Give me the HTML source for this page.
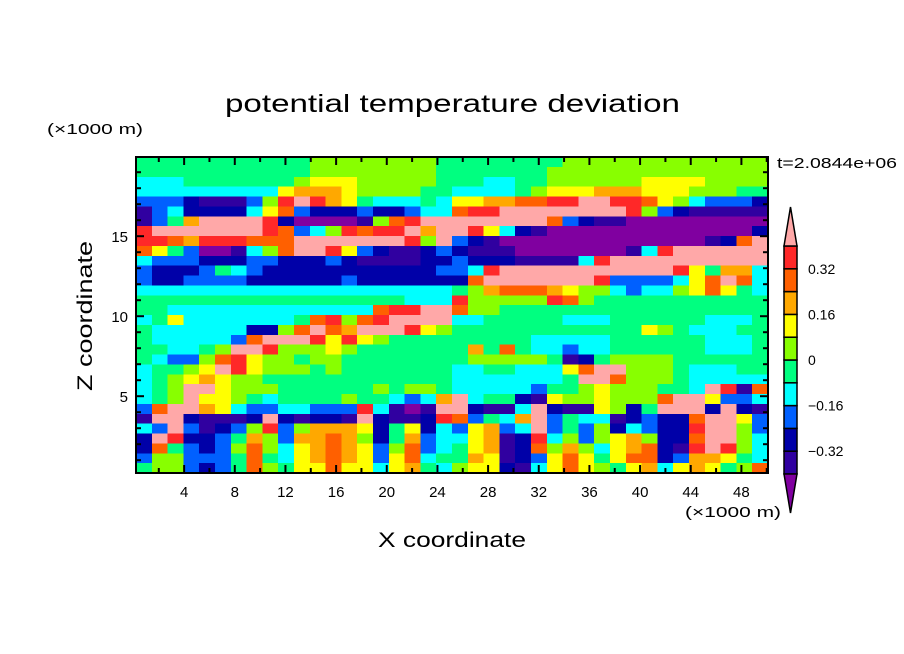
<!DOCTYPE html>
<html><head><meta charset="utf-8"><style>
html,body{margin:0;padding:0;background:#fff;}
svg{display:block;font-family:"Liberation Sans","DejaVu Sans",sans-serif;}
</style></head><body>
<svg id="chart" width="904" height="654" viewBox="0 0 904 654" xmlns="http://www.w3.org/2000/svg">
<rect width="904" height="654" fill="#fff"/>
<g id="cells" shape-rendering="crispEdges"></g>
<g id="axes"></g>
<g id="cbar"></g>
<text x="225" y="112" font-size="25" textLength="455" lengthAdjust="spacingAndGlyphs">potential temperature deviation</text>
<text x="47" y="134" font-size="15" textLength="96" lengthAdjust="spacingAndGlyphs">(×1000 m)</text>
<text x="777" y="168" font-size="15" textLength="120" lengthAdjust="spacingAndGlyphs">t=2.0844e+06</text>
<text x="685" y="517" font-size="15" textLength="96" lengthAdjust="spacingAndGlyphs">(×1000 m)</text>
<text x="378" y="547" font-size="21" textLength="148" lengthAdjust="spacingAndGlyphs">X coordinate</text>
<text transform="translate(92,391) rotate(-90)" font-size="21" textLength="150" lengthAdjust="spacingAndGlyphs">Z coordinate</text>
</svg>
<script>
// Field rows (top z -> bottom z), 40 columns each; codes a..l = levels
const levelCodes = "abcdefghijkl";
const fieldRows = [
"fffffffffffggggggggf"+"fffffffggggggggggggg",
"fffffffffffggggggggf"+"ffffffgggggggggggggg",
"eeefffffffghhhgggggf"+"ffeeffgggggghhhhgggg",
"eeeeeeeeehiiihggggff"+"eeeefghhhiiihhhgggff",
"dddcbbbdgklkihfeeefe"+"hhiijjkkllkkjhgedddc",
"bdeccccehjdcccdccdee"+"jkkllllllllkgdcbbbbb",
"bdfillllkcaaaabgjkll"+"lllllljdcbbaaaaaaaaa",
"klllllllkjdegkjkklil"+"lkhecbaaaaaaaaaaaaac",
"kkjikkkjjjlllllllkgl"+"dcbaaaaaaaaaaaaabcjl",
"jhfdaabegjllkhdcbbcd"+"cbbbaaaaaaabekllllll",
"edddcccddcccdcbbbbcc"+"dcccbbbbekllllllllll",
"dcccdfedcccccccccccd"+"deklllllllllllkhfiie",
"dccddddccccccdcccccc"+"cjlllllllkddddehjlje",
"eeeeeeeeeeeeeeeeeeee"+"fgijjjihggedeeghjhfe",
"fffffffffffffffffeee"+"kgggggkjgfffffffffff",
"ffeeeeeeeeeeeeejkkll"+"jggfffffffffffffffff",
"efheeeeeeefjkgjkllll"+"eefffffeeeffffffeeef",
"feeeeeeccgjljilllkhg"+"ffffffffffffhgfeeeff",
"feeeeedjlllkhkhgffff"+"fffffeeeeeffffffeeef",
"ffeefgllkggghgffffff"+"fifjfeedeeffffffeeef",
"feddgjkhggfggfffffff"+"fgggggfbcfggggffffff",
"effghlkhgggfgfffffff"+"eeffeeehjllgggfeeeff",
"efghihggffffffffffff"+"eeeeeeeflljgggfeeeee",
"efgllhgggffffffgfggf"+"eeeeedffghgggffelkbj",
"efglhhgfeffffgffedei"+"leffcbhgghgggjllhdde",
"djlliheddeedddkebabl"+"lcbbelcbbhgcflllclcb",
"bllcbbbclcbccblcbbck"+"jdfeildfeebcdccjllhd",
"edldbcdgkdgiiihcfhce"+"dhideldfdgcedcckllgd",
"clkccdfigdiijigcfide"+"ehibckegdghigccjllge",
"cjfdcdgjgehijihdgjde"+"fhibcjgigehijcbklkge",
"dggdddfjfehijihdhjef"+"fihbcdhjhfhjjcdiihfe",
"fggdcdfjgfhhjhhehife"+"ghhcbehjhgfhiehihfgj"
];
const contourLevels = [-0.4,-0.32,-0.24,-0.16,-0.08,0,0.08,0.16,0.24,0.32,0.4];
const levelColors = ["#8000a0","#3000a0","#0000a8","#0060ff","#00ffff","#00ff80","#88ff00","#ffff00","#ffa800","#ff6000","#ff2828","#ffa8a8"];
const xTicks = [4,8,12,16,20,24,28,32,36,40,44,48];
const yTicks = [5,10,15];
const cbarLabels = [0.32,0.16,0,-0.16,-0.32];

const X0=0.2, X1=50.1, Z0=0.2, Z1=19.95;
const PL=136, PR=768, PT=157, PB=473;
const xs = x => PL + (x-X0)/(X1-X0)*(PR-PL);
const ys = z => PB - (z-Z0)/(Z1-Z0)*(PB-PT);
const NS="http://www.w3.org/2000/svg";
function mk(tag, attrs, parent){const e=document.createElementNS(NS,tag);for(const k in attrs)e.setAttribute(k,attrs[k]);parent.appendChild(e);return e;}
function colorFor(v){let i=0;while(i<contourLevels.length && v>=contourLevels[i]) i++;return levelColors[i];}

const nRows=fieldRows.length, nCols=40;
const dx=(X1-X0)/nCols, dz=(Z1-Z0)/nRows;
const cells=document.getElementById('cells');
fieldRows.forEach((row,r)=>{
  for(let c=0;c<nCols;c++){
    const code=row[c]||'f';
    const v=-0.44+0.08*levelCodes.indexOf(code);
    const x0=xs(X0+c*dx), x1=xs(X0+(c+1)*dx);
    const zTop=Z1-r*dz, zBot=Z1-(r+1)*dz;
    const el=mk('rect',{x:x0.toFixed(2),y:ys(zTop).toFixed(2),width:(x1-x0+0.6).toFixed(2),height:(ys(zBot)-ys(zTop)+0.6).toFixed(2),fill:colorFor(v)},cells);
    
    
  }
});

const ax=document.getElementById('axes');
const frame=mk('rect',{x:PL,y:PT,width:PR-PL,height:PB-PT,fill:'none',stroke:'#000','stroke-width':2},ax);


for(let x=2;x<=50;x+=2){
  const px=xs(x), L=(x%4===0)?8:5;
  mk('line',{x1:px,y1:PB,x2:px,y2:PB-L,stroke:'#000','stroke-width':2},ax);
  mk('line',{x1:px,y1:PT,x2:px,y2:PT+L,stroke:'#000','stroke-width':2},ax);
}
for(let z=1;z<=19;z++){
  const py=ys(z), L=(z%5===0)?8:5;
  mk('line',{x1:PL,y1:py,x2:PL+L,y2:py,stroke:'#000','stroke-width':2},ax);
  mk('line',{x1:PR,y1:py,x2:PR-L,y2:py,stroke:'#000','stroke-width':2},ax);
}
xTicks.forEach(t=>{
  const e=mk('text',{x:xs(t),y:497,'font-size':15,'text-anchor':'middle'},ax);
  e.textContent=t;
  
  
});
yTicks.forEach(t=>{
  const e=mk('text',{x:128,y:ys(t)+6,'font-size':15,'text-anchor':'end'},ax);
  e.textContent=t;
  
  
});

// colorbar
const cb=document.getElementById('cbar');
const CX0=784, CX1=797, CT=246, CB=474;
const cv = v => CB - (v-(-0.4))/0.8*(CB-CT);
for(let i=0;i<contourLevels.length-1;i++){
  const r=mk('rect',{x:CX0,y:cv(contourLevels[i+1]),width:CX1-CX0,height:cv(contourLevels[i])-cv(contourLevels[i+1]),fill:levelColors[i+1],stroke:'#000','stroke-width':1.5},cb);
  
  
}
const tu=mk('polygon',{points:`${CX0},${CT} ${CX1},${CT} ${(CX0+CX1)/2},207`,fill:levelColors[11],stroke:'#000','stroke-width':1.5},cb);


const td=mk('polygon',{points:`${CX0},${CB} ${CX1},${CB} ${(CX0+CX1)/2},513`,fill:levelColors[0],stroke:'#000','stroke-width':1.5},cb);


cbarLabels.forEach(v=>{
  const e=mk('text',{x:808,y:cv(v)+5,'font-size':14},cb);
  e.textContent = v<0 ? '\u2212'+Math.abs(v) : String(v);
  
  
});
</script>
</body></html>
